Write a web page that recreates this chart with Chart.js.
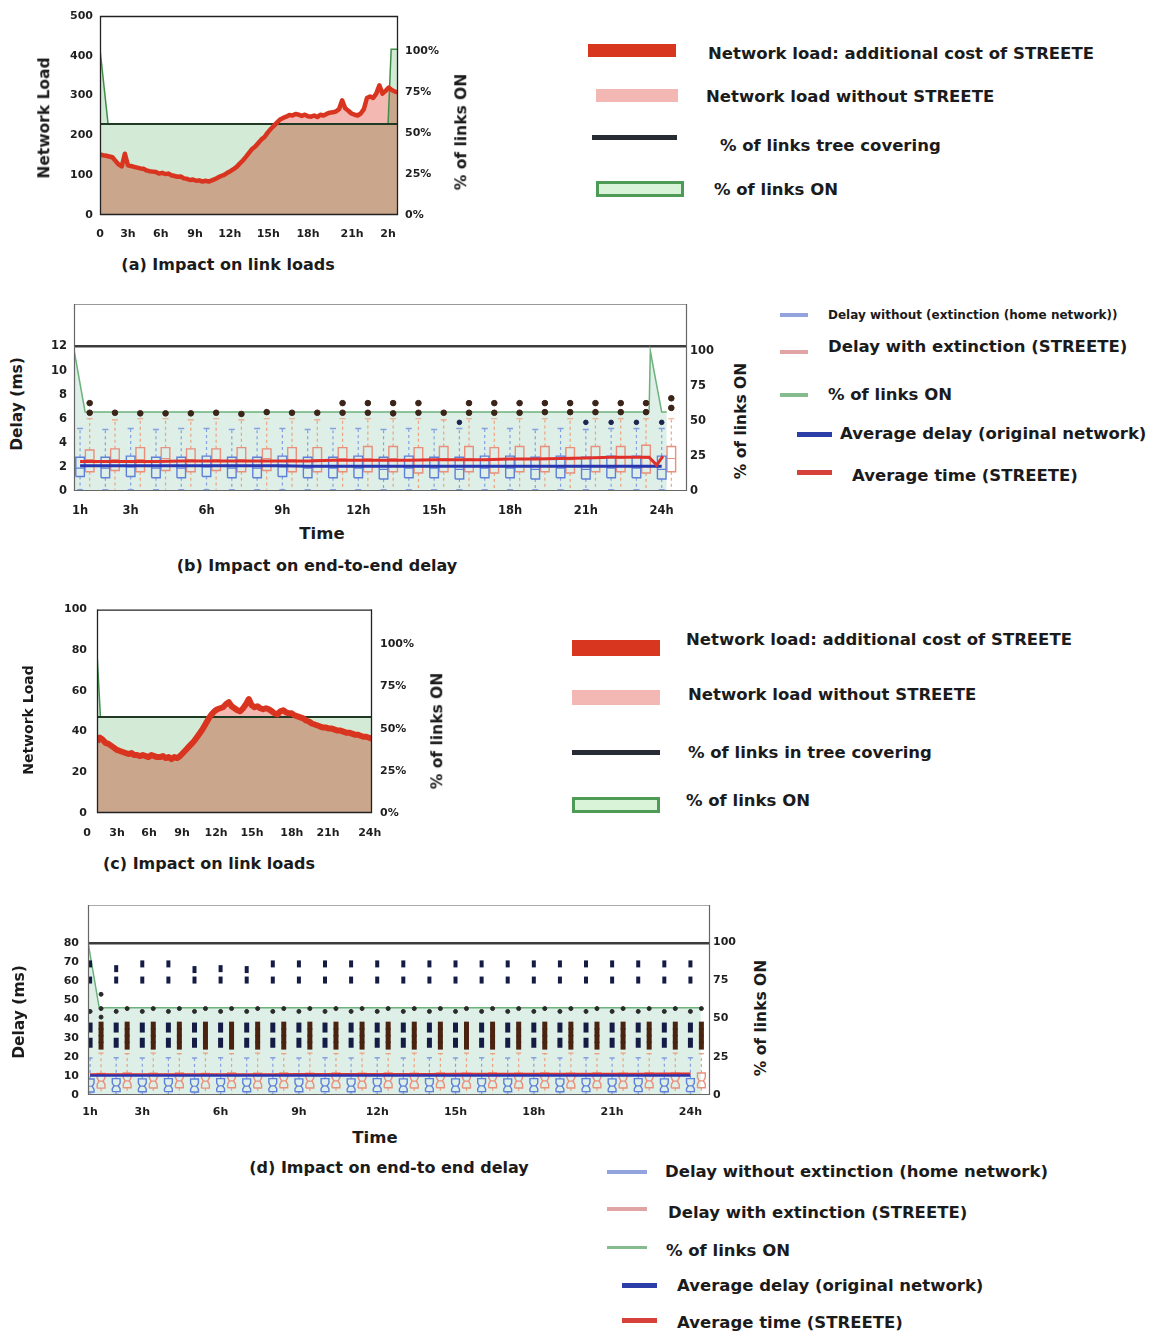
<!DOCTYPE html>
<html>
<head>
<meta charset="utf-8">
<title>STREETE: link loads and end-to-end delay</title>
<script src="https://cdn.jsdelivr.net/npm/chart.js@4.4.1/dist/chart.umd.min.js"></script>
<style>
  html, body { margin: 0; padding: 0; background: #fff; }
  body { position: relative; width: 1152px; height: 1333px; overflow: hidden;
         font-family: "DejaVu Sans", "Liberation Sans", Arial, sans-serif; font-weight: bold; color: #1b1b1b; }
  canvas { position: absolute; }
  .t { position: absolute; white-space: nowrap; line-height: 1; }
  .lc { transform: translateY(-50%); }
  .cc { transform: translate(-50%, -50%); }
  .rot { transform: translate(-50%, -50%) rotate(-90deg); }
  .sw { position: absolute; box-sizing: border-box; }
</style>
</head>
<body>

<!-- (a) link loads -->
<canvas id="chartA" width="445" height="247" style="left:30px;top:0px;width:445px;height:247px"></canvas>
<div class="t rot" style="left:45px;top:118px;font-size:15.5px">Network Load</div>
<div class="t rot" style="left:462px;top:132px;font-size:15.5px">% of links ON</div>
<div class="t cc" style="left:228px;top:265px;font-size:16px">(a) Impact on link loads</div>

<div class="sw" style="left:588px;top:44px;width:88px;height:13px;background:#d9361f"></div>
<div class="t lc" style="left:708px;top:54px;font-size:16.5px">Network load: additional cost of STREETE</div>
<div class="sw" style="left:596px;top:89px;width:82px;height:13px;background:#f4b8b4"></div>
<div class="t lc" style="left:706px;top:97px;font-size:16.5px">Network load without STREETE</div>
<div class="sw" style="left:592px;top:135px;width:85px;height:5px;background:#262b34"></div>
<div class="t lc" style="left:720px;top:146px;font-size:16.5px">% of links tree covering</div>
<div class="sw" style="left:596px;top:181px;width:88px;height:16px;background:#d8f3d7;border:3px solid #4e9a57"></div>
<div class="t lc" style="left:714px;top:190px;font-size:16.5px">% of links ON</div>

<!-- (b) end-to-end delay -->
<canvas id="chartB" width="697" height="233" style="left:30px;top:288px;width:697px;height:233px"></canvas>
<div class="t rot" style="left:18px;top:404px;font-size:15.5px">Delay (ms)</div>
<div class="t rot" style="left:742px;top:421px;font-size:15.5px">% of links ON</div>
<div class="t cc" style="left:322px;top:534px;font-size:16.5px">Time</div>
<div class="t cc" style="left:317px;top:566px;font-size:16px">(b) Impact on end-to-end delay</div>

<div class="sw" style="left:780px;top:313px;width:28px;height:4px;background:#93a3de"></div>
<div class="t lc" style="left:828px;top:315px;font-size:12px">Delay without (extinction (home network))</div>
<div class="sw" style="left:780px;top:350px;width:28px;height:4px;background:#e0a4a4"></div>
<div class="t lc" style="left:828px;top:347px;font-size:16.5px">Delay with extinction (STREETE)</div>
<div class="sw" style="left:780px;top:393px;width:28px;height:4px;background:#86bb8e"></div>
<div class="t lc" style="left:828px;top:395px;font-size:16.5px">% of links ON</div>
<div class="sw" style="left:797px;top:432px;width:35px;height:5px;background:#2c3fa8"></div>
<div class="t lc" style="left:840px;top:434px;font-size:16.5px">Average delay (original network)</div>
<div class="sw" style="left:797px;top:470px;width:35px;height:5px;background:#d6413a"></div>
<div class="t lc" style="left:852px;top:476px;font-size:16.5px">Average time (STREETE)</div>

<!-- (c) link loads -->
<canvas id="chartC" width="412" height="250" style="left:20px;top:593px;width:412px;height:250px"></canvas>
<div class="t rot" style="left:28px;top:720px;font-size:14px">Network Load</div>
<div class="t rot" style="left:438px;top:731px;font-size:15.5px">% of links ON</div>
<div class="t cc" style="left:209px;top:864px;font-size:16px">(c) Impact on link loads</div>

<div class="sw" style="left:572px;top:640px;width:88px;height:16px;background:#d9361f"></div>
<div class="t lc" style="left:686px;top:640px;font-size:16.5px">Network load: additional cost of STREETE</div>
<div class="sw" style="left:572px;top:690px;width:88px;height:15px;background:#f4b8b4"></div>
<div class="t lc" style="left:688px;top:695px;font-size:16.5px">Network load without STREETE</div>
<div class="sw" style="left:572px;top:750px;width:88px;height:5px;background:#262b34"></div>
<div class="t lc" style="left:688px;top:753px;font-size:16.5px">% of links in tree covering</div>
<div class="sw" style="left:572px;top:797px;width:88px;height:16px;background:#d8f3d7;border:3px solid #4e9a57"></div>
<div class="t lc" style="left:686px;top:801px;font-size:16.5px">% of links ON</div>

<!-- (d) end-to-end delay -->
<canvas id="chartD" width="710" height="236" style="left:40px;top:889px;width:710px;height:236px"></canvas>
<div class="t rot" style="left:20px;top:1012px;font-size:15.5px">Delay (ms)</div>
<div class="t rot" style="left:762px;top:1018px;font-size:15.5px">% of links ON</div>
<div class="t cc" style="left:375px;top:1138px;font-size:16.5px">Time</div>
<div class="t cc" style="left:389px;top:1168px;font-size:16px">(d) Impact on end-to end delay</div>

<div class="sw" style="left:607px;top:1170px;width:40px;height:4px;background:#93a3de"></div>
<div class="t lc" style="left:665px;top:1172px;font-size:16.5px">Delay without extinction (home network)</div>
<div class="sw" style="left:607px;top:1207px;width:40px;height:4px;background:#e0a4a4"></div>
<div class="t lc" style="left:668px;top:1213px;font-size:16.5px">Delay with extinction (STREETE)</div>
<div class="sw" style="left:607px;top:1246px;width:40px;height:3px;background:#86bb8e"></div>
<div class="t lc" style="left:666px;top:1251px;font-size:16.5px">% of links ON</div>
<div class="sw" style="left:622px;top:1283px;width:35px;height:5px;background:#2c3fa8"></div>
<div class="t lc" style="left:677px;top:1286px;font-size:16.5px">Average delay (original network)</div>
<div class="sw" style="left:622px;top:1318px;width:35px;height:5px;background:#d6413a"></div>
<div class="t lc" style="left:677px;top:1323px;font-size:16.5px">Average time (STREETE)</div>

<script>
// ---------------------------------------------------------------
// Data
// ---------------------------------------------------------------
const SAMPLE_STEP_H = 0.25;   // load samples every quarter hour

// (a) network load, first topology
const loadA = [152,150,149,147,145,136,127,122,154,125,123,121,119,117,116,112,110,109,108,104,
               106,103,104,100,98,96,97,92,91,88,89,86,87,84,86,84,87,90,94,98,
               101,106,110,115,121,129,137,146,156,166,172,181,190,196,207,216,224,232,240,244,
               247,251,250,254,252,249,252,248,247,250,246,252,250,254,257,258,260,266,288,268,
               262,255,252,250,255,266,294,298,294,305,326,305,312,320,314,310,308];
const onHoursA   = [0, 0.65, 23.2, 23.45, 24];
const onPctA     = [101, 55.5, 55.5, 101, 101];
const treeHoursA = [0, 24];
const treePctA   = [55.5, 55.5];
const xTickHoursA  = [0, 2.25, 4.9, 7.65, 10.45, 13.55, 16.75, 20.3, 23.2];
const xTickLabelsA = ['0', '3h', '6h', '9h', '12h', '15h', '18h', '21h', '2h'];
const yTicksA  = [0, 100, 200, 300, 400, 500];
const y2TicksA = [0, 25, 50, 75, 100];

// (c) network load, second topology
const loadC = [35,37,36,34.5,34,33,32,31,30.5,30,29.5,29,29.5,28.5,28.5,28,28.5,28,27.5,28.5,
               28,27.5,27.5,28,27,27.5,26.5,27.5,27,28,29.5,31,32.5,34,35.5,37.5,39.5,41.5,44,46.5,
               48.5,50,51,51.5,52,53.5,54.5,52.5,51.5,50.5,50,51.5,53.5,56,53,52,52.5,51.5,51,51.5,
               51,50,49,48.5,50,50.5,49.5,49,49,48,47.5,47,46.5,45.5,45,44,43.5,43,42.5,42,
               42,41.5,41.5,41,40.5,40.5,40,39.5,39.5,39,38.5,38.5,38,37.5,37.5,37,36.5];
const onHoursC   = [0, 0.3, 24];
const onPctC     = [95, 57, 57];
const treeHoursC = [0, 24];
const treePctC   = [57, 57];
const xTickHoursC  = [-0.87, 1.75, 4.54, 7.42, 10.39, 13.53, 17.0, 20.16, 23.8];
const xTickLabelsC = ['0', '3h', '6h', '9h', '12h', '15h', '18h', '21h', '24h'];
const yTicksC  = [0, 20, 40, 60, 80, 100];
const y2TicksC = [0, 25, 50, 75, 100];

// (b) delay box plots per hour (ms)
const hoursB    = [1,2,3,4,5,6,7,8,9,10,11,12,13,14,15,16,17,18,19,20,21,22,23,24];
const blueLoB   = [0.1,0.1,0.1,0.1,0.1,0.1,0.1,0.1,0.1,0.1,0.1,0.1,0.1,0.1,0.1,0.1,0.1,0.1,0.1,0.1,0.1,0.1,0.1,0.1];
const blueQ1B   = [1.2,1.1,1.2,1.1,1.1,1.2,1.1,1.1,1.2,1.1,1.1,1.1,1.0,1.1,1.1,1.0,1.1,1.1,1.0,1.1,1.0,1.1,1.1,1.0];
const blueMedB  = [1.9,1.9,2.0,1.9,1.9,2.0,1.9,1.9,2.0,1.9,1.9,1.9,1.8,1.9,1.9,1.8,1.9,1.9,1.8,1.9,1.8,1.9,1.9,1.8];
const blueQ3B   = [2.8,2.8,2.9,2.8,2.8,2.9,2.8,2.8,2.9,2.8,2.8,2.9,2.8,2.9,2.8,2.8,2.9,2.9,2.8,2.9,2.8,2.9,2.9,2.9];
const blueHiB   = [5.2,5.1,5.2,5.1,5.2,5.2,5.1,5.2,5.2,5.1,5.2,5.2,5.1,5.2,5.1,5.2,5.2,5.2,5.1,5.2,5.1,5.2,5.2,5.2];
const redLoB    = [0.1,0.1,0.1,0.1,0.1,0.1,0.1,0.1,0.1,0.1,0.1,0.1,0.1,0.1,0.1,0.1,0.1,0.1,0.1,0.1,0.1,0.1,0.1,0.1];
const redQ1B    = [1.6,1.7,1.6,1.7,1.6,1.7,1.6,1.7,1.6,1.6,1.6,1.6,1.6,1.5,1.6,1.6,1.5,1.6,1.6,1.5,1.6,1.6,1.5,1.6];
const redMedB   = [2.6,2.6,2.6,2.7,2.6,2.6,2.6,2.7,2.6,2.6,2.7,2.7,2.7,2.6,2.7,2.7,2.6,2.7,2.7,2.6,2.7,2.7,2.7,2.7];
const redQ3B    = [3.4,3.5,3.6,3.6,3.5,3.5,3.6,3.5,3.6,3.6,3.6,3.7,3.7,3.6,3.7,3.7,3.6,3.7,3.7,3.6,3.7,3.7,3.8,3.7];
const redHiB    = [6.0,5.9,6.0,6.0,5.9,6.0,5.9,6.0,6.0,5.9,6.0,6.0,6.0,6.0,5.9,6.0,6.0,6.0,6.0,6.0,6.0,6.0,6.0,6.0];
const blueAvgB  = [2.1,2.1,2.1,2.1,2.1,2.1,2.1,2.1,2.1,2.05,2.05,2.05,2.05,2.05,2.05,2.05,2.05,2.05,2.05,2.05,2.05,2.05,2.05,2.05];
const redAvgHoursB = [1,2,3,4,5,6,7,8,9,10,11,12,13,14,15,16,17,18,19,20,21,22,23,23.5,23.8,24.05];
const redAvgB      = [2.45,2.45,2.45,2.45,2.5,2.5,2.5,2.5,2.5,2.5,2.55,2.55,2.55,2.55,2.6,2.6,2.6,2.65,2.65,2.7,2.75,2.8,2.8,2.8,2.15,2.9];
const redOutHoursB = [1,2,3,4,5,6,7,8,9,10,11,12,13,14,15,16,17,18,19,20,21,22,23,24,
                      1,11,12,13,14,16,17,18,19,20,21,22,23,24];
const redOutValsB  = [6.5,6.5,6.45,6.45,6.45,6.5,6.4,6.55,6.5,6.5,6.5,6.5,6.45,6.5,6.5,6.5,6.5,6.5,6.55,6.55,6.55,6.55,6.55,6.9,
                      7.3,7.3,7.3,7.3,7.3,7.3,7.3,7.3,7.3,7.3,7.3,7.3,7.3,7.7];
const blueOutHoursB = [16, 21, 22, 23, 24];
const blueOutValsB  = [5.7, 5.7, 5.7, 5.7, 5.7];
const onHoursB = [0.76, 1.2, 23.5, 23.55, 24.0, 24.2];
const onPctB   = [101, 56.4, 56.4, 100, 56.4, 56.4];
const xTicksB      = [1, 3, 6, 9, 12, 15, 18, 21, 24];
const xTickLabelsB = ['1h', '3h', '6h', '9h', '12h', '15h', '18h', '21h', '24h'];
const yTicksB  = [0, 2, 4, 6, 8, 10, 12];
const y2TicksB = [0, 25, 50, 75, 100];

// (d) delay box plots per hour (ms)
const hoursD    = [1,2,3,4,5,6,7,8,9,10,11,12,13,14,15,16,17,18,19,20,21,22,23,24];
const blueLoD   = [0.3,0.3,0.3,0.3,0.3,0.3,0.3,0.3,0.3,0.3,0.3,0.3,0.3,0.3,0.3,0.3,0.3,0.3,0.3,0.3,0.3,0.3,0.3,0.3];
const blueQ1D   = [1.6,1.8,1.7,1.8,1.6,1.8,1.7,1.8,1.7,1.8,1.7,1.8,1.7,1.8,1.7,1.8,1.7,1.8,1.7,1.8,1.7,1.8,1.7,1.8];
const blueMedD  = [4.6,4.8,4.7,4.8,4.6,4.8,4.7,4.8,4.7,4.8,4.7,4.8,4.7,4.8,4.7,4.8,4.7,4.8,4.7,4.8,4.7,4.8,4.7,4.8];
const blueQ3D   = [8.4,8.6,8.5,8.6,8.4,8.6,8.5,8.6,8.5,8.6,8.5,8.6,8.5,8.6,8.5,8.6,8.5,8.6,8.5,8.6,8.5,8.6,8.5,8.6];
const blueHiD   = [19.5,19.6,19.5,19.6,19.5,19.6,19.5,19.6,19.5,19.6,19.5,19.6,19.5,19.6,19.5,19.6,19.5,19.6,19.5,19.6,19.5,19.6,19.5,19.6];
const redLoD    = [0.5,0.5,0.5,0.5,0.5,0.5,0.5,0.5,0.5,0.5,0.5,0.5,0.5,0.5,0.5,0.5,0.5,0.5,0.5,0.5,0.5,0.5,0.5,0.5];
const redQ1D    = [3.6,3.8,3.7,3.8,3.6,3.8,3.7,3.8,3.7,3.8,3.7,3.8,3.7,3.8,3.7,3.8,3.7,3.8,3.7,3.8,3.7,3.8,3.7,3.8];
const redMedD   = [7.3,7.4,7.3,7.4,7.3,7.4,7.3,7.4,7.3,7.4,7.3,7.4,7.3,7.4,7.3,7.4,7.3,7.4,7.3,7.4,7.3,7.4,7.3,7.4];
const redQ3D    = [11.4,11.6,11.5,11.6,11.4,11.6,11.5,11.6,11.5,11.6,11.5,11.6,11.5,11.6,11.5,11.6,11.5,11.6,11.5,11.6,11.5,11.6,11.5,11.6];
const redHiD    = [22.0,21.8,22.0,21.8,22.0,21.8,22.0,21.8,22.0,21.8,22.0,21.8,22.0,21.8,22.0,21.8,22.0,21.8,22.0,21.8,22.0,21.8,22.0,21.8];
const blueAvgD  = [10.3,10.3,10.3,10.3,10.3,10.3,10.3,10.3,10.3,10.3,10.3,10.3,10.3,10.3,10.3,10.3,10.3,10.3,10.3,10.3,10.3,10.3,10.3,10.3];
const redAvgD   = [10.8,10.8,10.8,10.8,10.8,10.8,10.8,10.8,10.9,10.9,10.9,10.9,10.9,10.9,11.0,11.0,11.0,11.0,11.0,11.1,11.1,11.1,11.2,11.2];
// blue outliers per hour: upper pair, middle pair, near-whisker dot
const blueOutTopD  = [69,66.5,69,69,66,66.5,66,69,69,69,69,69,69,69,69,69,69,69,69,69,69,69,69,69];
const blueOutHighD = [60.5,60.5,60.5,60.5,60.5,60.5,60.5,60.5,60.5,60.5,60.5,60.5,60.5,60.5,60.5,60.5,60.5,60.5,60.5,60.5,60.5,60.5,60.5,60.5];
const blueOutMid1D = [35.5,35.5,35.5,35.5,35.5,35.5,35.5,35.5,35.5,35.5,35.5,35.5,35.5,35.5,35.5,35.5,35.5,35.5,35.5,35.5,35.5,35.5,35.5,35.5];
const blueOutMid2D = [27.5,27.5,27.5,27.5,27.5,27.5,27.5,27.5,27.5,27.5,27.5,27.5,27.5,27.5,27.5,27.5,27.5,27.5,27.5,27.5,27.5,27.5,27.5,27.5];
const blueOutNearD = [44,44,44,44,44,44,44,44,44,44,44,44,44,44,44,44,44,44,44,44,44,44,44,44];
// red outliers per hour: dense column and near-whisker dot
const redOutLevelsD = [26, 29.5, 33, 36.5];
const redOutNearD  = [45.5,45.5,45.5,45.5,45.5,45.5,45.5,45.5,45.5,45.5,45.5,45.5,45.5,45.5,45.5,45.5,45.5,45.5,45.5,45.5,45.5,45.5,45.5,45.5];
const redOutFirstHourD = [53, 41];
const onHoursD = [0.92, 1.35, 24.4];
const onPctD   = [100, 57, 57];
const xTicksD      = [1, 3, 6, 9, 12, 15, 18, 21, 24];
const xTickLabelsD = ['1h', '3h', '6h', '9h', '12h', '15h', '18h', '21h', '24h'];
const yTicksD  = [0, 10, 20, 30, 40, 50, 60, 70, 80];
const y2TicksD = [0, 25, 50, 75, 100];

// ---------------------------------------------------------------
// Helpers
// ---------------------------------------------------------------
const FONT = '"DejaVu Sans", "Liberation Sans", Arial, sans-serif';
const TICK = '#1e1e1e';

const framePlugin = {
  id: 'frame',
  defaults: { color: '#222', topColor: null, width: 1 },
  afterDraw(chart, args, opts) {
    const { ctx, chartArea: a } = chart;
    ctx.save();
    ctx.lineWidth = opts.width;
    ctx.strokeStyle = opts.topColor || opts.color;
    ctx.beginPath(); ctx.moveTo(a.left, a.top + 0.5); ctx.lineTo(a.right, a.top + 0.5); ctx.stroke();
    ctx.strokeStyle = opts.color;
    ctx.beginPath();
    ctx.moveTo(a.left + 0.5, a.top);
    ctx.lineTo(a.left + 0.5, a.bottom - 0.5);
    ctx.lineTo(a.right - 0.5, a.bottom - 0.5);
    ctx.lineTo(a.right - 0.5, a.top);
    ctx.stroke();
    ctx.restore();
  }
};
Chart.register(framePlugin);

const xy = (xs, ys) => xs.map((x, i) => ({ x, y: ys[i] }));

function xAxis(min, max, tickVals, labels, pad, height, size) {
  return {
    type: 'linear', min, max,
    grid: { display: false, drawTicks: false }, border: { display: false },
    afterBuildTicks: s => { s.ticks = tickVals.map(v => ({ value: v })); },
    afterFit: s => { s.height = height; },
    ticks: { autoSkip: false, maxRotation: 0, minRotation: 0, padding: pad, color: TICK,
             font: { family: FONT, size, weight: 'bold' }, callback: (v, i) => labels[i] }
  };
}
function yAxis(position, max, tickVals, fmt, pad, width, size, grid) {
  return {
    type: 'linear', position, min: 0, max,
    grid: grid || { display: false, drawTicks: false }, border: { display: false },
    afterBuildTicks: s => { s.ticks = tickVals.map(v => ({ value: v })); },
    afterFit: s => { s.width = width; },
    ticks: { autoSkip: false, padding: pad, color: TICK,
             font: { family: FONT, size, weight: 'bold' }, callback: v => fmt(v) }
  };
}
function baseOptions(scales, frame) {
  return {
    responsive: false, animation: false, events: [],
    devicePixelRatio: 1,
    layout: { padding: { top: 16, left: 0, right: 0, bottom: 0 } },
    plugins: { legend: { display: false }, tooltip: { enabled: false }, frame },
    elements: { point: { radius: 0 }, line: { tension: 0 } },
    scales
  };
}

// box-plot geometry built from the quartile arrays
function whiskerPath(hours, off, q1, q3, lo, hi) {
  const p = [];
  hours.forEach((h, i) => {
    const x = h + off;
    p.push({ x, y: q3[i] }, { x, y: hi[i] }, { x, y: null });
    p.push({ x, y: q1[i] }, { x, y: lo[i] }, { x, y: null });
  });
  return p;
}
function capPath(hours, off, half, vals) {
  const p = [];
  hours.forEach((h, i) => {
    p.push({ x: h + off - half, y: vals[i] }, { x: h + off + half, y: vals[i] }, { x: h + off + half, y: null });
  });
  return p;
}
function boxPath(hours, off, half, q1, med, q3, notched) {
  const p = [];
  hours.forEach((h, i) => {
    const l = h + off - half, r = h + off + half;
    if (notched) {
      const n = (q3[i] - q1[i]) * 0.22, d = half * 0.45;
      p.push({ x: l, y: q1[i] }, { x: l, y: med[i] - n }, { x: l + d, y: med[i] }, { x: l, y: med[i] + n },
             { x: l, y: q3[i] }, { x: r, y: q3[i] }, { x: r, y: med[i] + n }, { x: r - d, y: med[i] },
             { x: r, y: med[i] - n }, { x: r, y: q1[i] }, { x: l, y: q1[i] }, { x: l, y: null });
    } else {
      p.push({ x: l, y: q1[i] }, { x: l, y: q3[i] }, { x: r, y: q3[i] }, { x: r, y: q1[i] },
             { x: l, y: q1[i] }, { x: l, y: null });
    }
  });
  return p;
}
function medianPath(hours, off, half, med, inset) {
  const p = [];
  hours.forEach((h, i) => {
    p.push({ x: h + off - half + inset, y: med[i] }, { x: h + off + half - inset, y: med[i] }, { x: h + off + half, y: null });
  });
  return p;
}
const lineDS = (data, color, width, extra) =>
  Object.assign({ data, borderColor: color, borderWidth: width, pointRadius: 0, fill: false, spanGaps: false }, extra || {});
const dotDS = (data, color, style, radius, extra) =>
  Object.assign({ data, showLine: false, pointRadius: radius, pointStyle: style,
                  pointBackgroundColor: color, pointBorderColor: color, pointBorderWidth: 1 }, extra || {});

// ---------------------------------------------------------------
// Load panels (a) and (c)
// ---------------------------------------------------------------
const TAN = '#c9a68c', MINT = '#d3ebd6', PINK = '#f4b8b3', RED = '#d8341f', ONGREEN = '#3f8f48', TREE = '#1f3a23';

function loadChart(id, loads, onH, onP, treeH, treeP, xCfg, yCfg, y2Cfg, redWidth) {
  const hours = loads.map((_, i) => i * SAMPLE_STEP_H);
  const pts = xy(hours, loads);
  return new Chart(document.getElementById(id), {
    type: 'line',
    data: { datasets: [
      // area under the load curve
      lineDS(pts, 'rgba(0,0,0,0)', 0, { fill: 'origin', backgroundColor: TAN, order: 5 }),
      // share of links switched on; green above the load, pink where the load exceeds it
      lineDS(xy(onH, onP), ONGREEN, 1.5, { yAxisID: 'y2', order: 4,
             fill: { target: 0, above: MINT, below: PINK } }),
      lineDS(xy(treeH, treeP), TREE, 2, { yAxisID: 'y2', order: 3 }),
      lineDS(pts, RED, redWidth, { order: 1, borderJoinStyle: 'round' })
    ] },
    options: baseOptions({ x: xCfg, y: yCfg, y2: y2Cfg }, { color: '#222', width: 1.3 })
  });
}

loadChart('chartA', loadA, onHoursA, onPctA, treeHoursA, treePctA,
  xAxis(0, 24, xTickHoursA, xTickLabelsA, 13, 32, 11),
  yAxis('left', 500, yTicksA, v => String(v), 7, 70, 11),
  yAxis('right', 121.3, y2TicksA, v => v + '%', 7, 77, 11),
  4.5);

loadChart('chartC', loadC, onHoursC, onPctC, treeHoursC, treePctC,
  xAxis(0, 24, xTickHoursC, xTickLabelsC, 14, 30, 11),
  yAxis('left', 100, yTicksC, v => String(v), 10, 77, 11),
  yAxis('right', 120.7, y2TicksC, v => v + '%', 8, 60, 11),
  6);

// ---------------------------------------------------------------
// Delay panels (b) and (d)
// ---------------------------------------------------------------
const BLUE_BOX = '#5f80d8', BLUE_WH = '#86a0e0', RED_BOX = '#e98f7c', RED_WH = '#eda27e';
const AVG_BLUE = '#2a36b0', AVG_RED = '#e0302c', ON_LIGHT = '#6cb27b', FILL_LIGHT = '#ddefe7';

function delayDatasets(hours, b, r, geo) {
  const ro = geo.redOffset;
  return [
    lineDS(whiskerPath(hours, 0, b.q1, b.q3, b.lo, b.hi), BLUE_WH, 1.2, { borderDash: [3, 3], order: 9 }),
    lineDS(whiskerPath(hours, ro, r.q1, r.q3, r.lo, r.hi), RED_WH, 1.2, { borderDash: [3, 3], order: 9 }),
    lineDS(capPath(hours, 0, geo.cap, b.hi), BLUE_WH, 1.5, { order: 8 }),
    lineDS(capPath(hours, 0, geo.cap, b.lo), BLUE_WH, 1.5, { order: 8 }),
    lineDS(capPath(hours, ro, geo.cap, r.hi), RED_WH, 1.2, { order: 8 }),
    lineDS(boxPath(hours, 0, geo.half, b.q1, b.med, b.q3, geo.notched), BLUE_BOX, 1.4, { order: 6 }),
    lineDS(boxPath(hours, ro, geo.half, r.q1, r.med, r.q3, geo.notched), RED_BOX, 1.4, { order: 6 }),
    lineDS(medianPath(hours, 0, geo.half, b.med, geo.notched ? geo.half * 0.45 : 0), BLUE_BOX, 1.2, { order: 6 }),
    lineDS(medianPath(hours, ro, geo.half, r.med, geo.notched ? geo.half * 0.45 : 0), RED_BOX, 1.2, { order: 6 })
  ];
}

// (b)
new Chart(document.getElementById('chartB'), {
  type: 'line',
  data: { datasets: [
    lineDS(xy(onHoursB, onPctB), ON_LIGHT, 1.5, { yAxisID: 'y2', fill: 'origin', backgroundColor: FILL_LIGHT, order: 10 }),
    ...delayDatasets(hoursB,
      { lo: blueLoB, q1: blueQ1B, med: blueMedB, q3: blueQ3B, hi: blueHiB },
      { lo: redLoB, q1: redQ1B, med: redMedB, q3: redQ3B, hi: redHiB },
      { redOffset: 0.38, half: 0.17, cap: 0.12, notched: false }),
    lineDS(xy(hoursB, blueAvgB), AVG_BLUE, 3, { order: 3 }),
    lineDS(xy(redAvgHoursB, redAvgB), AVG_RED, 3, { order: 2 }),
    dotDS(xy(redOutHoursB.map(h => h + 0.38), redOutValsB), '#3b2418', 'circle', 2.8, { order: 1 }),
    dotDS(xy(blueOutHoursB, blueOutValsB), '#1c2550', 'circle', 2.3, { order: 1 })
  ] },
  options: baseOptions({
    x: xAxis(0.76, 25.0, xTicksB, xTickLabelsB, 13, 30, 11.5),
    y: yAxis('left', 15.53, yTicksB, v => String(v), 7, 44, 11.5,
      { display: true, drawTicks: false,
        color: c => (c.tick && c.tick.value === 12) ? '#3c3c3c' : 'rgba(0,0,0,0)',
        lineWidth: c => (c.tick && c.tick.value === 12) ? 2.5 : 0 }),
    y2: yAxis('right', 133.6, y2TicksB, v => String(v), 3, 40, 11.5)
  }, { color: '#666', topColor: '#999', width: 1.2 })
});

// (d)
const RED_OFF_D = 0.42;
const blueOutD = [];
hoursD.forEach((h, i) => {
  blueOutD.push({ x: h, y: blueOutTopD[i] }, { x: h, y: blueOutHighD[i] });
});
const blueMidD = [];
hoursD.forEach((h, i) => {
  blueMidD.push({ x: h, y: blueOutMid1D[i] }, { x: h, y: blueOutMid2D[i] });
});
const redColD = [];
hoursD.forEach(h => redOutLevelsD.forEach(v => redColD.push({ x: h + RED_OFF_D, y: v })));
const nearDotsD = xy(hoursD, blueOutNearD)
  .concat(xy(hoursD.map(h => h + RED_OFF_D), redOutNearD))
  .concat(redOutFirstHourD.map(v => ({ x: hoursD[0] + RED_OFF_D, y: v })));

new Chart(document.getElementById('chartD'), {
  type: 'line',
  data: { datasets: [
    lineDS(xy(onHoursD, onPctD), ON_LIGHT, 1.5, { yAxisID: 'y2', fill: 'origin', backgroundColor: FILL_LIGHT, order: 10 }),
    ...delayDatasets(hoursD,
      { lo: blueLoD, q1: blueQ1D, med: blueMedD, q3: blueQ3D, hi: blueHiD },
      { lo: redLoD, q1: redQ1D, med: redMedD, q3: redQ3D, hi: redHiD },
      { redOffset: RED_OFF_D, half: 0.15, cap: 0.1, notched: true }),
    lineDS(xy(hoursD, redAvgD), AVG_RED, 2.5, { order: 3 }),
    lineDS(xy(hoursD, blueAvgD), AVG_BLUE, 2.5, { order: 2 }),
    dotDS(redColD, '#4a2210', 'line', 4, { pointRotation: 90, pointBorderWidth: 5, order: 1 }),
    dotDS(blueOutD, '#141c45', 'line', 3.5, { pointRotation: 90, pointBorderWidth: 4, order: 1 }),
    dotDS(blueMidD, '#141c45', 'line', 5, { pointRotation: 90, pointBorderWidth: 5, order: 1 }),
    dotDS(nearDotsD, '#2a2a2a', 'circle', 2, { order: 1 })
  ] },
  options: baseOptions({
    x: xAxis(0.92, 24.75, xTicksD, xTickLabelsD, 11, 30, 11),
    y: yAxis('left', 100, yTicksD, v => String(v), 9, 48, 11,
      { display: true, drawTicks: false,
        color: c => (c.tick && c.tick.value === 80) ? '#3c3c3c' : 'rgba(0,0,0,0)',
        lineWidth: c => (c.tick && c.tick.value === 80) ? 2.5 : 0 }),
    y2: yAxis('right', 124.2, y2TicksD, v => String(v), 3, 40, 11)
  }, { color: '#666', topColor: '#aaa', width: 1.2 })
});
</script>
</body>
</html>
